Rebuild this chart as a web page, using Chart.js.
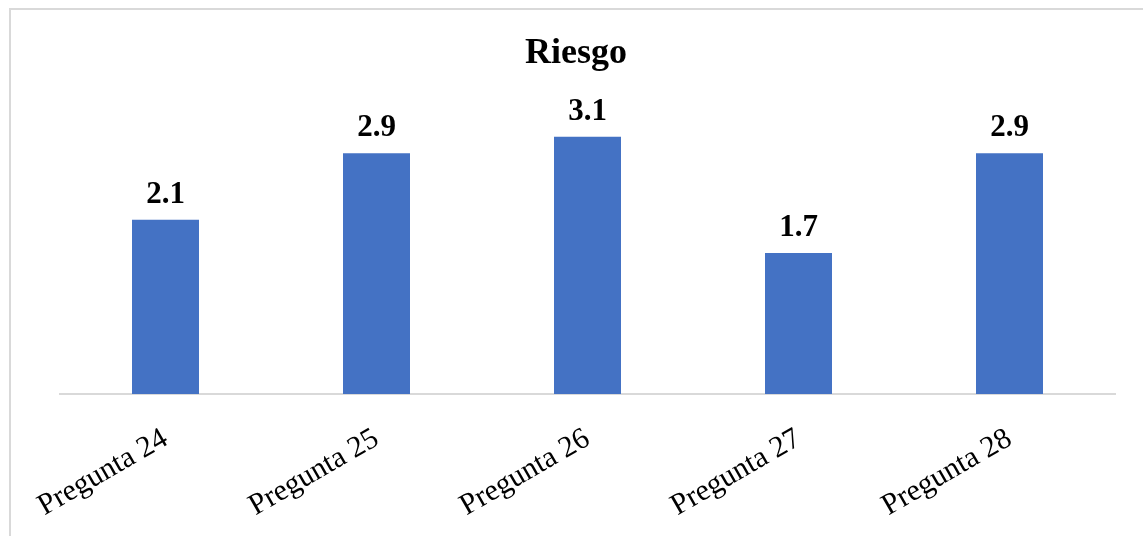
<!DOCTYPE html>
<html lang="es">
<head>
<meta charset="utf-8">
<title>Riesgo</title>
<script src="https://cdn.jsdelivr.net/npm/chart.js@4/dist/chart.umd.min.js"></script>
<style>
  html, body { margin: 0; padding: 0; background: #ffffff; overflow: hidden; }
  #frame {
    position: absolute; left: 9px; top: 8px;
    width: 1150px; height: 560px;
    border: 2px solid #d9d9d9; box-sizing: border-box;
  }
  #wrap { position: absolute; left: 0; top: 0; width: 1143px; height: 536px; }
</style>
</head>
<body>
<div id="frame"></div>
<div id="wrap"><canvas id="chart" width="1143" height="536"></canvas></div>
<script>
// Data
const categories = ['Pregunta 24', 'Pregunta 25', 'Pregunta 26', 'Pregunta 27', 'Pregunta 28'];
const riesgoValues = [2.1, 2.9, 3.1, 1.7, 2.9];
const valueLabels = ['2.1', '2.9', '3.1', '1.7', '2.9'];
const chartTitle = 'Riesgo';

const SERIF = '"Liberation Serif", "Times New Roman", serif';

// Title centred over the whole frame, plus each bar's value above it
const annotations = {
  id: 'annotations',
  afterDatasetsDraw(chart) {
    const ctx = chart.ctx;
    ctx.save();
    ctx.fillStyle = '#000000';
    ctx.textAlign = 'center';
    ctx.textBaseline = 'alphabetic';

    ctx.font = 'bold 36px ' + SERIF;
    ctx.fillText(chartTitle, 576, 63);

    ctx.font = 'bold 31px ' + SERIF;
    const meta = chart.getDatasetMeta(0);
    meta.data.forEach((bar, i) => {
      ctx.fillText(valueLabels[i], bar.x, bar.y - 17);
    });
    ctx.restore();
  }
};

new Chart(document.getElementById('chart'), {
  type: 'bar',
  data: {
    labels: categories,
    datasets: [{
      label: chartTitle,
      data: riesgoValues,
      backgroundColor: '#4472C4',
      borderWidth: 0,
      barPercentage: 1,
      categoryPercentage: 0.3175
    }]
  },
  options: {
    responsive: false,
    animation: false,
    devicePixelRatio: 1,
    layout: { padding: { top: 103.5, left: 60, right: 28, bottom: 0 } },
    plugins: {
      legend: { display: false },
      tooltip: { enabled: false },
      title: { display: false }
    },
    scales: {
      x: {
        grid: { display: false, drawTicks: false },
        border: { display: true, color: '#d9d9d9', width: 2 },
        ticks: {
          color: '#000000',
          font: { family: SERIF, size: 30 },
          minRotation: 30,
          maxRotation: 30,
          padding: 27
        },
        afterFit(scale) {
          scale.height = 142;
          scale.paddingLeft = 0;
          scale.paddingRight = 0;
        }
      },
      y: {
        display: false,
        min: 0,
        max: 3.5
      }
    }
  },
  plugins: [annotations]
});
</script>
</body>
</html>
